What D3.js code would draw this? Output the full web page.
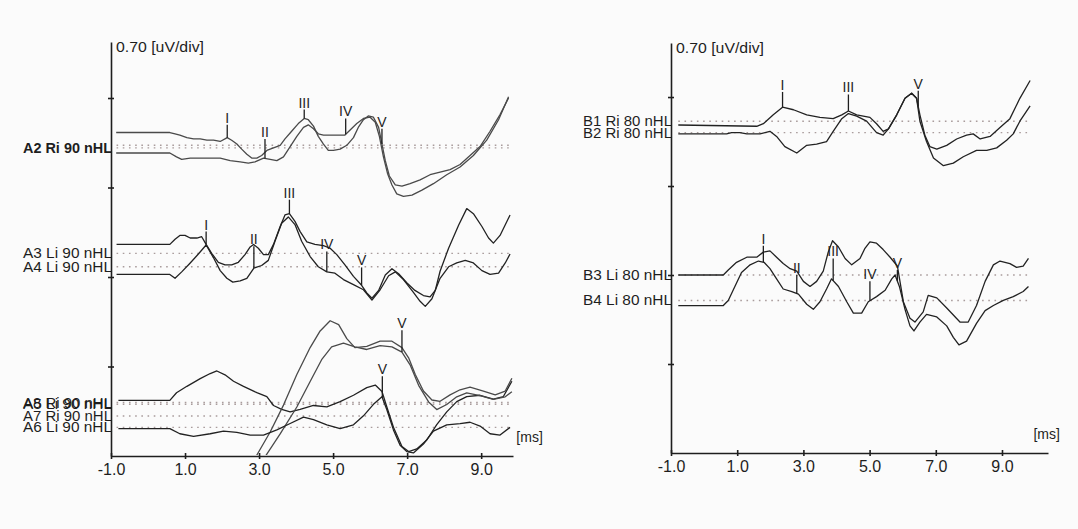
<!DOCTYPE html>
<html><head><meta charset="utf-8">
<script src="https://cdn.jsdelivr.net/npm/d3@7"></script>
<style>
body{margin:0;background:#fbfbfb;}
svg{display:block;font-family:"Liberation Sans",Arial,sans-serif;}
</style></head><body>
<svg id="chart" width="1078" height="529"></svg>
<script>
// ---------------- DATA ----------------
const xTickValues = [-1, 1, 3, 5, 7, 9];
const xTickLabels = ["-1.0", "1.0", "3.0", "5.0", "7.0", "9.0"];
const yDivision = 0.70;                 // µV per division
const yUnitLabel = "0.70 [uV/div]";
const xUnitLabel = "[ms]";

// waveforms: [latency ms, amplitude µV relative to own baseline]
const A1 = [[-0.86,0.10],[0.59,0.10],[0.73,0.09],[0.86,0.08],[1.05,0.06],[1.23,0.05],[1.41,0.05],[1.59,0.04],[1.77,0.04],[1.95,0.03],[2.14,0.06],[2.26,0.04],[2.40,0.01],[2.53,-0.03],[2.67,-0.07],[2.80,-0.10],[2.94,-0.10],[3.07,-0.08],[3.21,-0.04],[3.39,-0.02],[3.57,0.00],[3.70,0.05],[3.88,0.11],[4.06,0.17],[4.22,0.21],[4.33,0.20],[4.47,0.15],[4.60,0.07],[4.74,0.01],[4.87,-0.04],[5.01,-0.04],[5.19,-0.03],[5.37,0.00],[5.55,0.06],[5.68,0.14],[5.82,0.20],[5.95,0.23],[6.09,0.22],[6.23,0.14],[6.32,0.01],[6.41,-0.12],[6.52,-0.24],[6.68,-0.31],[6.86,-0.32],[7.08,-0.30],[7.35,-0.27],[7.62,-0.23],[7.89,-0.21],[8.16,-0.19],[8.43,-0.15],[8.70,-0.08],[8.97,-0.01],[9.24,0.11],[9.51,0.24],[9.74,0.37]];
const A2 = [[-0.86,-0.04],[0.59,-0.04],[0.77,-0.07],[0.91,-0.09],[1.14,-0.08],[1.41,-0.08],[1.68,-0.08],[1.95,-0.08],[2.22,-0.10],[2.49,-0.11],[2.71,-0.12],[2.89,-0.11],[3.12,-0.08],[3.30,-0.09],[3.48,-0.10],[3.66,-0.07],[3.84,0.01],[4.02,0.09],[4.20,0.16],[4.33,0.18],[4.47,0.15],[4.60,0.11],[4.74,0.10],[5.32,0.10],[5.46,0.14],[5.64,0.19],[5.82,0.23],[6.00,0.24],[6.14,0.20],[6.25,0.09],[6.36,-0.07],[6.47,-0.20],[6.59,-0.29],[6.72,-0.36],[6.90,-0.38],[7.13,-0.37],[7.40,-0.33],[7.71,-0.28],[8.07,-0.21],[8.43,-0.15],[8.79,-0.06],[9.15,0.06],[9.47,0.22],[9.74,0.40]];
const A3 = [[-0.85,0.07],[0.59,0.07],[0.73,0.11],[0.86,0.14],[1.00,0.14],[1.14,0.12],[1.32,0.12],[1.45,0.13],[1.57,0.07],[1.72,0.00],[1.90,-0.07],[2.08,-0.09],[2.26,-0.09],[2.44,-0.07],[2.62,-0.01],[2.76,0.05],[2.85,0.07],[2.98,0.04],[3.12,-0.01],[3.25,-0.01],[3.39,0.07],[3.57,0.21],[3.70,0.30],[3.82,0.31],[3.97,0.25],[4.11,0.17],[4.29,0.09],[4.51,0.07],[4.74,0.06],[4.92,0.04],[5.10,-0.01],[5.32,-0.09],[5.55,-0.18],[5.77,-0.25],[5.91,-0.31],[6.05,-0.35],[6.23,-0.29],[6.41,-0.17],[6.59,-0.12],[6.77,-0.16],[6.99,-0.23],[7.21,-0.29],[7.44,-0.33],[7.62,-0.34],[7.76,-0.29],[7.89,-0.14],[8.12,0.04],[8.39,0.22],[8.61,0.35],[8.79,0.31],[9.02,0.21],[9.20,0.12],[9.33,0.08],[9.51,0.14],[9.78,0.30]];
const A4 = [[-0.85,-0.06],[0.59,-0.06],[0.73,-0.09],[0.91,-0.04],[1.14,0.03],[1.36,0.10],[1.57,0.17],[1.77,0.07],[1.95,-0.03],[2.13,-0.09],[2.29,-0.12],[2.49,-0.11],[2.67,-0.09],[2.86,-0.01],[3.07,0.01],[3.25,0.05],[3.43,0.20],[3.61,0.34],[3.79,0.39],[3.97,0.33],[4.15,0.20],[4.38,0.08],[4.60,0.00],[4.83,-0.04],[5.05,-0.05],[5.28,-0.10],[5.55,-0.14],[5.82,-0.18],[6.05,-0.26],[6.27,-0.18],[6.50,-0.07],[6.68,-0.04],[6.90,-0.10],[7.17,-0.20],[7.35,-0.27],[7.49,-0.31],[7.67,-0.25],[7.89,-0.09],[8.12,0.00],[8.34,0.03],[8.57,0.05],[8.79,0.03],[9.02,-0.03],[9.24,-0.06],[9.47,-0.05],[9.65,0.03],[9.78,0.10]];
const A5 = [[-0.80,0.03],[0.59,0.03],[0.77,0.09],[1.05,0.14],[1.41,0.20],[1.68,0.24],[1.86,0.26],[2.08,0.23],[2.31,0.18],[2.58,0.14],[2.94,0.09],[3.21,0.06],[3.39,-0.01],[3.61,-0.04],[3.84,-0.06],[4.11,-0.04],[4.47,-0.01],[4.83,-0.02],[5.19,0.02],[5.55,0.07],[5.91,0.13],[6.14,0.15],[6.32,0.10],[6.45,-0.02],[6.63,-0.18],[6.86,-0.33],[7.04,-0.37],[7.26,-0.35],[7.53,-0.28],[7.80,-0.16],[8.07,-0.06],[8.34,0.02],[8.61,0.06],[8.97,0.07],[9.33,0.04],[9.60,0.06],[9.83,0.18]];
const A8 = [[2.49,-0.64],[2.94,-0.41],[3.30,-0.23],[3.66,-0.02],[4.02,0.22],[4.38,0.43],[4.65,0.56],[4.92,0.64],[5.15,0.61],[5.37,0.50],[5.59,0.43],[5.91,0.44],[6.27,0.48],[6.59,0.48],[6.86,0.43],[7.04,0.35],[7.22,0.22],[7.44,0.09],[7.67,0.02],[7.89,0.01],[8.16,0.06],[8.43,0.10],[8.70,0.12],[9.06,0.09],[9.38,0.06],[9.65,0.09],[9.83,0.19]];
const A7 = [[2.76,-0.55],[3.16,-0.32],[3.57,-0.14],[4.02,0.07],[4.38,0.27],[4.69,0.44],[4.96,0.54],[5.28,0.57],[5.59,0.54],[5.91,0.52],[6.27,0.55],[6.59,0.54],[6.86,0.50],[7.08,0.40],[7.31,0.24],[7.58,0.11],[7.80,0.05],[8.07,0.09],[8.34,0.15],[8.61,0.18],[8.97,0.16],[9.33,0.13],[9.65,0.15],[9.83,0.19]];
const A6 = [[-0.80,-0.01],[0.59,-0.01],[0.86,-0.05],[1.23,-0.07],[1.68,-0.05],[2.04,-0.03],[2.40,-0.04],[2.76,-0.06],[3.12,-0.06],[3.48,-0.02],[3.84,0.03],[4.20,0.08],[4.47,0.06],[4.83,0.02],[5.19,-0.01],[5.55,0.02],[5.82,0.09],[6.09,0.18],[6.32,0.24],[6.45,0.14],[6.63,-0.02],[6.81,-0.14],[6.99,-0.19],[7.17,-0.20],[7.44,-0.13],[7.71,-0.03],[8.07,0.02],[8.43,0.03],[8.70,0.04],[8.97,0.01],[9.24,-0.05],[9.51,-0.06],[9.78,0.00]];

const B1 = [[-0.78,-0.03],[1.59,-0.04],[1.79,-0.02],[2.09,0.05],[2.37,0.11],[2.70,0.09],[3.10,0.05],[3.50,0.03],[3.90,0.02],[4.16,0.05],[4.36,0.08],[4.61,0.05],[4.81,0.04],[5.01,0.03],[5.21,-0.02],[5.41,-0.08],[5.57,-0.06],[5.82,0.05],[6.07,0.18],[6.27,0.22],[6.42,0.18],[6.52,0.05],[6.67,-0.11],[6.82,-0.20],[7.03,-0.22],[7.33,-0.19],[7.63,-0.14],[7.93,-0.11],[8.13,-0.10],[8.34,-0.14],[8.64,-0.12],[8.94,-0.05],[9.24,0.02],[9.54,0.18],[9.85,0.32]];
const B2 = [[-0.78,-0.01],[0.68,-0.01],[0.83,0.00],[1.08,0.00],[1.29,-0.01],[1.69,-0.01],[1.99,0.01],[2.19,-0.03],[2.44,-0.11],[2.80,-0.16],[3.10,-0.10],[3.40,-0.09],[3.70,-0.07],[3.90,0.01],[4.16,0.11],[4.36,0.15],[4.61,0.13],[4.91,0.09],[5.21,0.00],[5.41,-0.02],[5.57,0.03],[5.82,0.14],[6.07,0.27],[6.27,0.31],[6.42,0.27],[6.52,0.09],[6.72,-0.07],[6.93,-0.20],[7.23,-0.26],[7.53,-0.24],[7.83,-0.19],[8.23,-0.14],[8.54,-0.14],[8.84,-0.12],[9.14,-0.06],[9.34,-0.01],[9.54,0.09],[9.85,0.21]];
const B3 = [[-0.78,0.00],[0.58,0.00],[0.73,0.04],[0.98,0.10],[1.29,0.14],[1.59,0.14],[1.79,0.18],[1.99,0.19],[2.19,0.14],[2.39,0.09],[2.60,0.05],[2.80,0.03],[3.00,-0.05],[3.20,-0.09],[3.40,-0.05],[3.60,0.03],[3.75,0.18],[3.88,0.27],[4.06,0.22],[4.26,0.13],[4.46,0.08],[4.71,0.13],[4.86,0.21],[5.01,0.26],[5.21,0.25],[5.41,0.20],[5.62,0.14],[5.84,0.07],[6.02,-0.21],[6.22,-0.34],[6.37,-0.37],[6.62,-0.29],[6.77,-0.16],[7.03,-0.18],[7.33,-0.26],[7.73,-0.37],[7.98,-0.37],[8.23,-0.24],[8.49,-0.05],[8.74,0.08],[8.94,0.11],[9.24,0.09],[9.44,0.06],[9.64,0.07],[9.80,0.13]];
const B4 = [[-0.78,-0.04],[0.58,-0.04],[0.73,0.00],[0.93,0.11],[1.13,0.22],[1.39,0.28],[1.64,0.31],[1.81,0.30],[1.99,0.25],[2.19,0.17],[2.39,0.09],[2.65,0.07],[2.85,0.05],[3.10,-0.03],[3.30,-0.07],[3.50,-0.01],[3.70,0.09],[3.85,0.17],[4.06,0.11],[4.31,-0.01],[4.51,-0.10],[4.76,-0.10],[4.96,-0.01],[5.21,0.03],[5.47,0.08],[5.67,0.17],[5.77,0.20],[5.90,0.11],[6.07,-0.07],[6.22,-0.20],[6.34,-0.24],[6.52,-0.17],[6.72,-0.11],[7.03,-0.13],[7.33,-0.20],[7.53,-0.29],[7.70,-0.35],[7.93,-0.32],[8.23,-0.18],[8.49,-0.08],[8.74,-0.04],[9.04,0.00],[9.34,0.03],[9.64,0.07],[9.80,0.11]];

// series: name, label, baseline offset (µV), waveform
const leftNames     = ["A1", "A2", "A3", "A4", "A5", "A8", "A7", "A6"];
const leftLabels    = [null, "A2 Ri 90 nHL", "A3 Li 90 nHL", "A4 Li 90 nHL", "A5 Li 90 nHL", "A8 Ri 90 nHL", "A7 Ri 90 nHL", "A6 Li 90 nHL"];
const leftBaselines = [2.43, 2.41, 1.585, 1.48, 0.405, 0.418, 0.313, 0.224];
const leftWaves     = [A1, A2, A3, A4, A5, A8, A7, A6];

const rightNames     = ["B1", "B2", "B3", "B4"];
const rightLabels    = ["B1 Ri 80 nHL", "B2 Ri 80 nHL", "B3 Li 80 nHL", "B4 Li 80 nHL"];
const rightBaselines = [2.61, 2.52, 1.40, 1.20];
const rightWaves     = [B1, B2, B3, B4];

// peak markers: [series, label, latency ms, marker top µV (relative to baseline)]
const leftMarkers = [
  ["A1","I",2.14,0.16],["A2","II",3.16,0.07],["A1","III",4.22,0.28],["A2","IV",5.34,0.23],["A1","V",6.32,0.13],
  ["A3","I",1.57,0.17],["A4","II",2.86,0.16],["A3","III",3.82,0.42],["A4","IV",4.83,0.12],["A3","V",5.77,-0.11],
  ["A7","V",6.86,0.67],["A6","V",6.33,0.40]
];
const rightMarkers = [
  ["B1","I",2.37,0.23],["B1","III",4.36,0.21],["B1","V",6.47,0.24],
  ["B4","I",1.79,0.43],["B4","II",2.80,0.20],["B4","III",3.90,0.33],["B4","IV",5.01,0.15],["B4","V",5.84,0.24]
];

// ---------------- DRAWING ----------------
const svg = d3.select("#chart");
const ink = "#1e1e1e";

function interp(wave, t) {
  for (let i = 0; i < wave.length - 1; i++) {
    const a = wave[i], b = wave[i + 1];
    if (t >= a[0] && t <= b[0]) return a[1] + (b[1] - a[1]) * (t - a[0]) / (b[0] - a[0]);
  }
  return wave[wave.length - 1][1];
}

function drawPanel(cfg) {
  const g = svg.append("g");
  const x = d3.scaleLinear().domain(cfg.xd).range(cfg.xr);
  const y = d3.scaleLinear().domain(cfg.yd).range(cfg.yr);
  const series = cfg.names.map((n, i) => ({name: n, label: cfg.labels[i], base: cfg.bases[i], wave: cfg.waves[i]}));
  const byName = Object.fromEntries(series.map(s => [s.name, s]));

  const clipId = "clip" + cfg.id;
  svg.append("clipPath").attr("id", clipId).append("rect")
    .attr("x", cfg.xr[0] + 1).attr("y", cfg.yr[1]).attr("width", cfg.xr[1] - cfg.xr[0]).attr("height", cfg.yr[0] - cfg.yr[1] - 1);

  // dotted baselines
  g.append("g").selectAll("line").data(series).join("line")
    .attr("x1", x(cfg.dotSpan[0])).attr("x2", x(cfg.dotSpan[1]))
    .attr("y1", d => y(d.base)).attr("y2", d => y(d.base))
    .attr("stroke", "#a99c9c").attr("stroke-width", 1.4).attr("stroke-dasharray", "1.6,4.6");

  // waveforms
  const line = d3.line().x(d => x(d[0])).curve(d3.curveLinear);
  g.append("g").attr("clip-path", `url(#${clipId})`).selectAll("path").data(series).join("path")
    .attr("d", s => line.y(d => y(s.base + d[1]))(s.wave))
    .attr("fill", "none").attr("stroke", s => cfg.light.includes(s.name) ? "#4a4a4a" : "#222")
    .attr("stroke-width", 1.3).attr("stroke-linejoin", "round");

  // axes
  const xAxis = d3.axisBottom(x).tickValues(xTickValues).tickFormat((d, i) => xTickLabels[i])
    .tickSizeInner(3).tickSizeOuter(0).tickPadding(5);
  const gx = g.append("g").attr("transform", `translate(0,${cfg.yr[0]})`).call(xAxis);
  gx.select(".domain").attr("stroke", ink).attr("stroke-width", 1.6);
  gx.selectAll(".tick line").attr("y1", -3).attr("stroke", ink).attr("stroke-width", 1.6);
  gx.selectAll(".tick text").attr("fill", ink).attr("font-size", 16).attr("font-family", "Liberation Sans, Arial, sans-serif");

  const yTicks = d3.range(1, Math.floor(cfg.yd[1] / yDivision) + 1).map(k => k * yDivision);
  const yAxis = d3.axisLeft(y).tickValues(yTicks).tickFormat("").tickSizeInner(3).tickSizeOuter(0);
  const gy = g.append("g").attr("transform", `translate(${cfg.xr[0]},0)`).call(yAxis);
  gy.select(".domain").attr("stroke", ink).attr("stroke-width", 1.6);
  gy.selectAll(".tick line").attr("x1", 3).attr("stroke", ink).attr("stroke-width", 1.6);

  // axis unit labels
  g.append("text").attr("x", cfg.xr[0] + 5).attr("y", y(cfg.yd[1]) + 10)
    .attr("font-size", 14).attr("fill", ink).attr("textLength", 88).attr("lengthAdjust", "spacingAndGlyphs")
    .text(yUnitLabel);
  g.append("text").attr("x", x(cfg.msAt)).attr("y", cfg.yr[0] - 14)
    .attr("font-size", 14).attr("fill", ink).text(xUnitLabel);

  // series labels
  g.append("g").selectAll("text").data(series.filter(s => s.label)).join("text")
    .attr("x", cfg.xr[0] + 1).attr("y", d => y(d.base) + 5)
    .attr("text-anchor", "end").attr("font-size", 14).attr("fill", ink)
    .attr("font-weight", d => cfg.bold.includes(d.name) ? "bold" : null)
    .attr("textLength", 89).attr("lengthAdjust", "spacingAndGlyphs")
    .text(d => d.label);

  // peak markers
  const mg = g.append("g").selectAll("g").data(cfg.markers).join("g");
  mg.append("line")
    .attr("x1", d => x(d[2])).attr("x2", d => x(d[2]))
    .attr("y1", d => { const s = byName[d[0]]; return y(s.base + interp(s.wave, d[2])); })
    .attr("y2", d => y(byName[d[0]].base + d[3]))
    .attr("stroke", ink).attr("stroke-width", 1.3);
  mg.append("text")
    .attr("x", d => x(d[2])).attr("y", d => y(byName[d[0]].base + d[3]) - 2)
    .attr("text-anchor", "middle").attr("font-size", 14).attr("fill", ink)
    .text(d => d[1]);
}

drawPanel({
  id: "L", xd: [-1, 9.86], xr: [111, 513], yd: [0, 3.238], yr: [456, 42],
  names: leftNames, labels: leftLabels, bases: leftBaselines, waves: leftWaves,
  markers: leftMarkers, dotSpan: [-0.85, 9.85], msAt: 9.95,
  light: ["A1", "A2", "A8", "A7"], bold: ["A2"]
});
drawPanel({
  id: "R", xd: [-1, 10.39], xr: [671, 1048], yd: [0, 3.225], yr: [453, 43],
  names: rightNames, labels: rightLabels, bases: rightBaselines, waves: rightWaves,
  markers: rightMarkers, dotSpan: [-0.78, 9.85], msAt: 9.95,
  light: [], bold: []
});
</script>
</body></html>
